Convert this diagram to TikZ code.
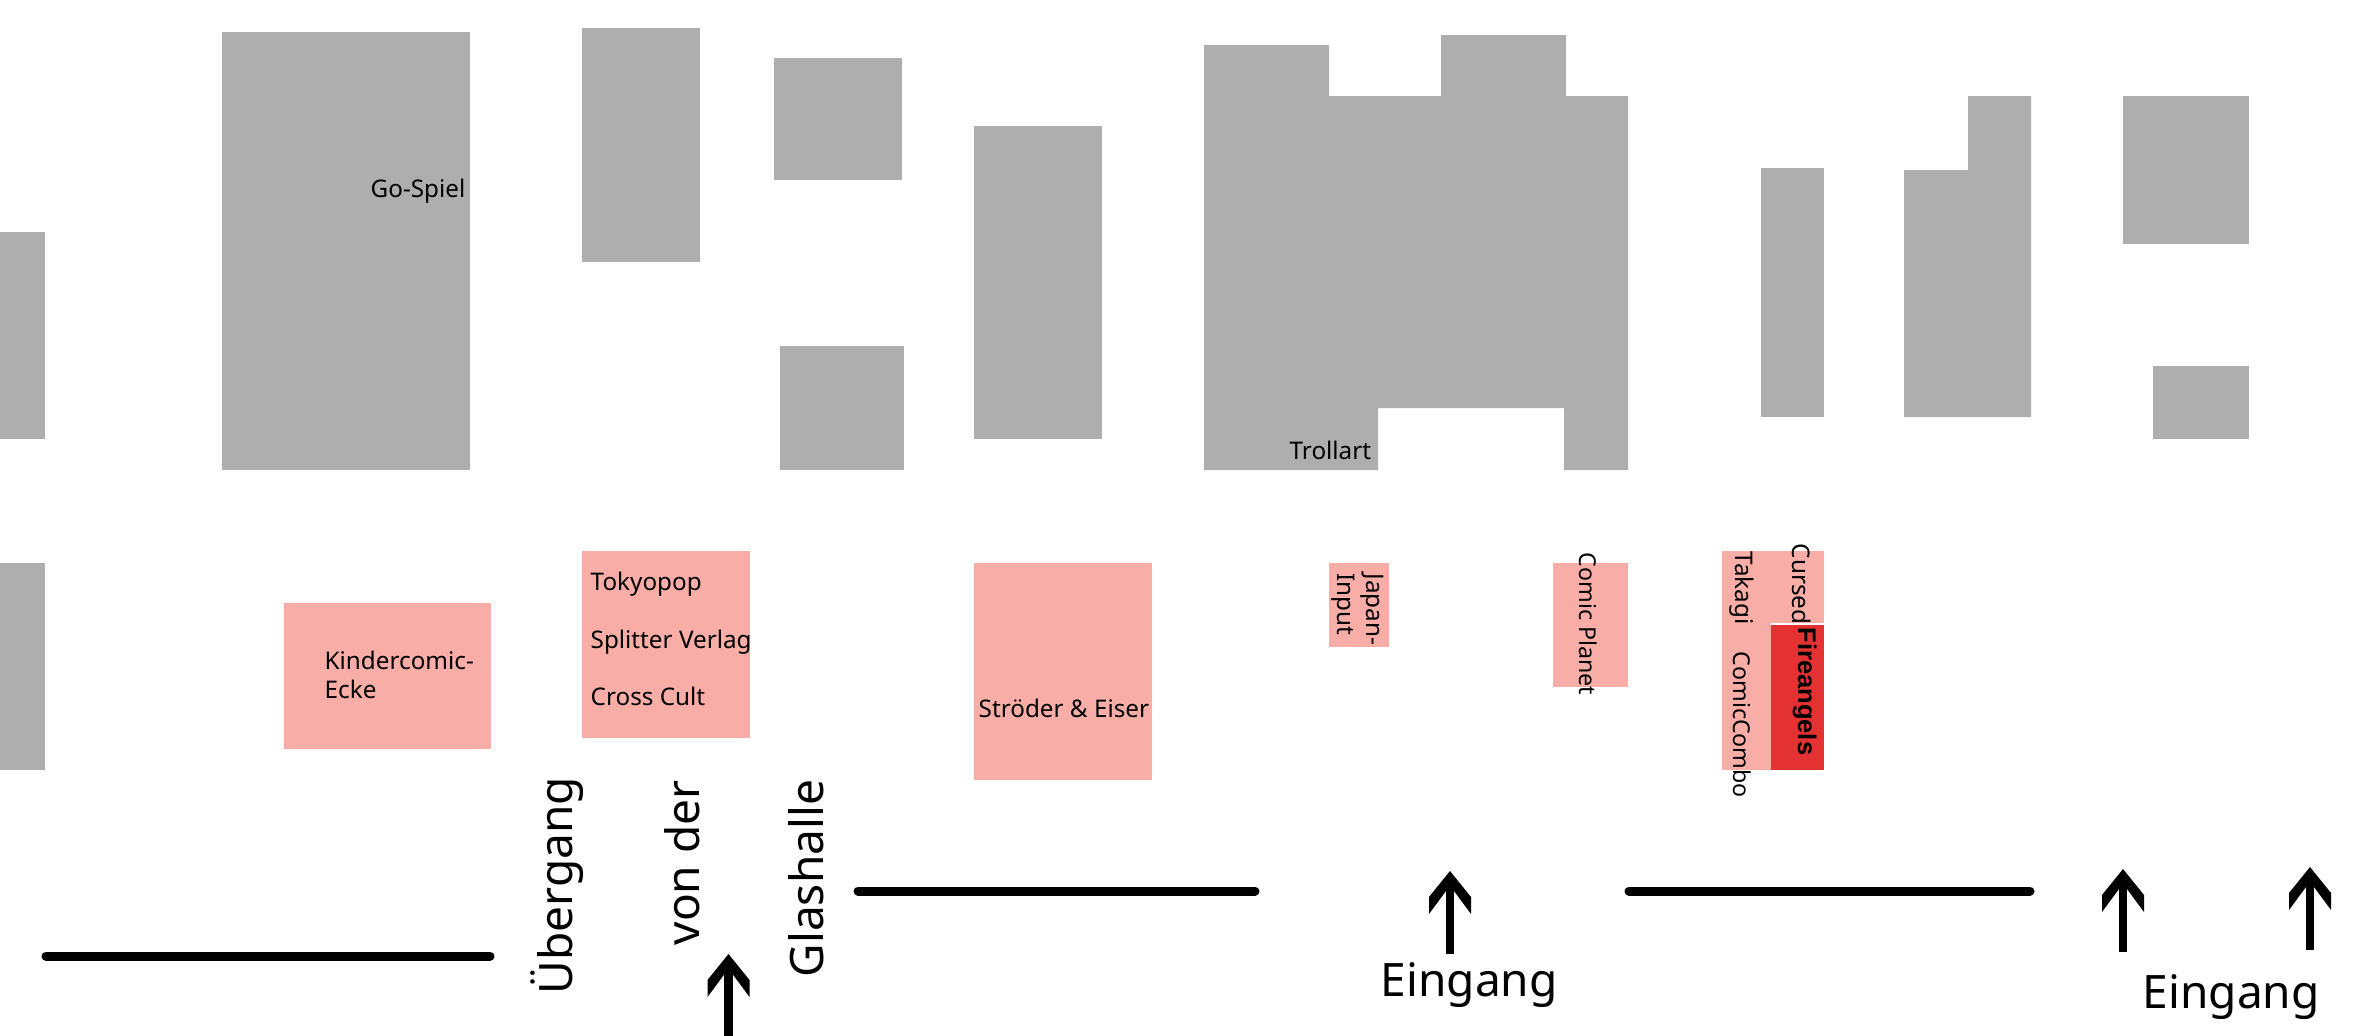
\documentclass[tikz,border=0pt]{standalone}
\usepackage{fontspec}
\setmainfont{Noto Sans}
\newfontfamily\firefont{Liberation Sans}
\usepackage{xcolor}
\usetikzlibrary{calc}
\definecolor{hallgray}{HTML}{AEAEAE}
\definecolor{boothpink}{HTML}{F8AEA6}
\definecolor{firered}{HTML}{E33231}
\tikzset{>=stealth}
\tikzset{
	stall/.style={fill=hallgray},
	booth/.style={fill=boothpink},
	standname/.style={inner sep=0pt, anchor=base west, font=\fontsize{6.9}{8}\selectfont},
	standdown/.style={standname, rotate=-90},
	narrowdown/.style={standdown, font=\fontsize{6.6}{8}\selectfont},
	bigname/.style={inner sep=0pt, anchor=base west, font=\fontsize{13.1}{16}\selectfont},
	bigup/.style={bigname, rotate=90},
	wall/.style={draw, line width=0.09cm, line cap=round},
	entryshaft/.style={draw, line width=0.085cm, shorten >=0.2cm}
}
\newcommand{\entryhead}[1]{\fill ([shift={(0,0)}]#1) -- ++(21,26) -- ++(0,17) -- ++(-17,-23) -- ++(-8,0) -- ++(-17,23) -- ++(0,-17) -- cycle;}

\begin{document}
\begin{tikzpicture}[x=0.01cm, y=-0.01cm]
	\useasboundingbox (0,0) rectangle (2362,1036);
	%% Halls
	\path [stall] (0,232) rectangle (45,439);
	\path [stall] (0,563) rectangle (45,770);
	\path [stall] (222,32) rectangle (470,470);
	\path [stall] (582,28) rectangle (700,262);
	\path [stall] (774,58) rectangle (902,180);
	\path [stall] (780,346) rectangle (904,470);
	\path [stall] (974,126) rectangle (1102,439);
	\path [stall] (1204,45) -- (1329,45) -- (1329,96) -- (1441,96) -- (1441,35) -- (1566,35) -- (1566,96) -- (1628,96)
		-- (1628,470) -- (1564,470) -- (1564,408) -- (1378,408) -- (1378,470) -- (1204,470) -- cycle;
	\path [stall] (1761,168) rectangle (1824,417);
	\path [stall] (1904,170) -- (1968,170) -- (1968,96) -- (2031,96) -- (2031,417) -- (1904,417) -- cycle;
	\path [stall] (2123,96) rectangle (2249,244);
	\path [stall] (2153,366) rectangle (2249,439);
	%% Booths
	\path [booth] (284,603) rectangle (491,749);
	\path [booth] (582,551) rectangle (750,738);
	\path [booth] (974,563) rectangle (1152,780);
	\path [booth] (1329,563) rectangle (1389,647);
	\path [booth] (1553,563) rectangle (1628,687);
	\path [booth] (1722,551) rectangle (1824,770);
	\path [fill=white] (1771,623) rectangle (1824,625);
	\path [fill=firered] (1771,625) rectangle (1824,770);
	%% Names
	\node [standname] at (370,197) (GoSpiel) {Go-Spiel};
	\node [standname] at (1289,459) (Trollart) {Trollart};
	\node [standname] at (324,669) (Kinder) {Kindercomic-};
	\node [standname] at (324,698) (Ecke) {Ecke};
	\node [standname] at (590,590) (Tokyopop) {Tokyopop};
	\node [standname] at (590,648) (Splitter) {Splitter Verlag};
	\node [standname] at (590,705) (CrossCult) {Cross Cult};
	\node [standname] at (978,717) (Stroeder) {Ströder \& Eiser};
	\node [standdown] at (1366,573) (Japan) {Japan-};
	\node [standdown] at (1337,573) (Input) {Input};
	\node [narrowdown] at (1579,552) (ComicPlanet) {Comic Planet};
	\node [standdown] at (1735,551) (Takagi) {Takagi};
	\node [narrowdown] at (1733,651) (ComicCombo) {ComicCombo};
	\node [standdown] at (1792,543) (Cursed) {Cursed};
	\node [standdown, font=\fontsize{7.25}{8}\firefont\bfseries] at (1798,627) (Fireangels) {Fireangels};
	%% Walls
	\coordinate (w1a) at (46,956);
	\coordinate (w1b) at (490,956);
	\coordinate (w2a) at (858,891);
	\coordinate (w2b) at (1255,891);
	\coordinate (w3a) at (1629,891);
	\coordinate (w3b) at (2030,891);
	\draw [wall] (w1a) -- (w1b);
	\draw [wall] (w2a) -- (w2b);
	\draw [wall] (w3a) -- (w3b);
	%% Entrances
	\coordinate (a1s) at (728.5,1036);
	\coordinate (a1e) at (728.5,954);
	\coordinate (a2s) at (1450,954);
	\coordinate (a2e) at (1450,871);
	\coordinate (a3s) at (2123,952);
	\coordinate (a3e) at (2123,869);
	\coordinate (a4s) at (2310,950);
	\coordinate (a4e) at (2310,867);
	\foreach \a in {a1,a2,a3,a4} {
		\draw [entryshaft] (\a s) -- (\a e);
		\entryhead{\a e}
	}
	\node [bigname] at (1380,996) (Eingang) {Eingang};
	\node [bigname] at (2142,1008) (EingangB) {Eingang};
	\node [bigup] at (572,995) (Uebergang) {Übergang};
	\node [bigup] at (699,946) (VonDer) {von der};
	\node [bigup] at (823,978) (Glashalle) {Glashalle};
\end{tikzpicture}
\end{document}
